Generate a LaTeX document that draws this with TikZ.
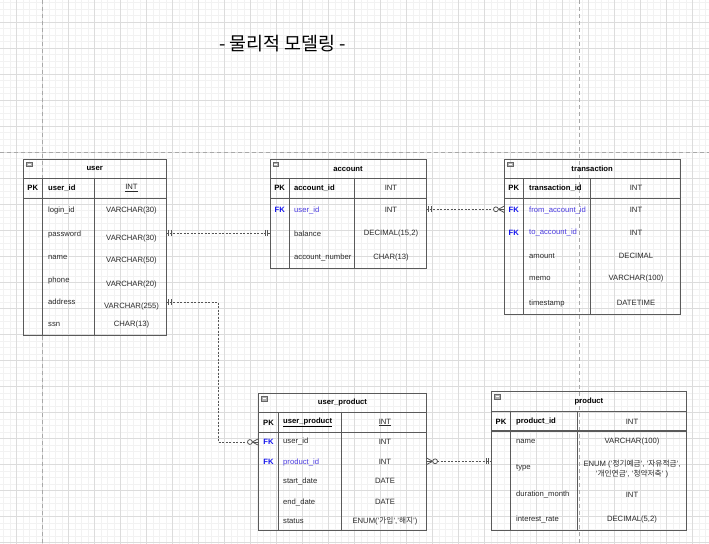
\documentclass[tikz,border=0pt]{standalone}
\usepackage{fontspec}
\setmainfont{Liberation Sans}
\newfontfamily\krfont{Noto Sans CJK KR}
\definecolor{gridmajor}{HTML}{DCDCDC}
\definecolor{gridminor}{HTML}{F2F2F2}
\definecolor{tblc}{HTML}{5A5A5A}
\definecolor{txtc}{HTML}{2A2A2A}
\definecolor{fkblue}{HTML}{1414EE}
\definecolor{fkname}{HTML}{4B3CE0}
\definecolor{pagec}{HTML}{A8A8A8}
\definecolor{connc}{HTML}{555555}
\tikzset{
  minorgrid/.style={draw=gridminor, line width=0.6bp},
  majorgrid/.style={draw=gridmajor, line width=0.8bp},
  pagebreak/.style={draw=pagec, line width=0.7bp, dash pattern=on 4bp off 3bp},
  tbl/.style={draw=tblc, line width=0.9bp},
  cell/.style={font=\fontsize{7.7}{9.5}\selectfont, text=txtc, inner sep=0pt, yshift=-0.8bp},
  fname/.style={cell, anchor=west},
  ftype/.style={cell, align=center},
  hdr/.style={cell, font=\fontsize{7.7}{9.5}\selectfont\bfseries, text=black},
  hdrname/.style={hdr, anchor=west},
  fk/.style={hdr, text=fkblue},
  fkn/.style={fname, text=fkname},
  conn/.style={draw=connc, line width=0.8bp, dash pattern=on 2bp off 1.5bp},
  mk/.style={draw=connc, line width=0.8bp},
  ttl/.style={font=\krfont\fontsize{18.5}{22}\selectfont, text=black, inner sep=0pt},
}
% entity table: #1 name, #2 title, #3 xl, #4 xc1, #5 xc2, #6 xr, #7 ytop, #8 ybottom
\newcommand\ertab[8]{%
  \draw[tbl] (#3,#7) rectangle (#6,#8);
  \draw[tbl] (#3,#7+19.5) -- (#6,#7+19.5);
  \draw[tbl,line width=1.3bp] (#3,#7+39.2) -- (#6,#7+39.2);
  \draw[tbl] (#4,#7+19.5) -- (#4,#8);
  \draw[tbl] (#5,#7+19.5) -- (#5,#8);
  \node[hdr] (#1-t) at ({(#3+#6)/2},#7+8.6) {#2};
  \draw[draw=gray!80!black, fill=gray!60, line width=0.4bp] (#3+3.2,#7+2.8) rectangle (#3+8.6,#7+7.4);
  \draw[white, line width=0.9bp] (#3+4.4,#7+5.1) -- (#3+7.4,#7+5.1);
}
% one-and-only-one end at #1, line leaving in x direction #2
\newcommand\oneend[2]{%
  \draw[mk] ([xshift=#2*2.5bp, yshift=3bp]#1) -- ([xshift=#2*2.5bp, yshift=-3bp]#1);
  \draw[mk] ([xshift=#2*5bp, yshift=3bp]#1) -- ([xshift=#2*5bp, yshift=-3bp]#1);
}
% zero-or-many end at #1, line leaving in x direction #2
\newcommand\manyend[2]{%
  \draw[mk] ([xshift=#2*6bp]#1) -- ([yshift=3.2bp]#1);
  \draw[mk] ([xshift=#2*6bp]#1) -- ([yshift=-3.2bp]#1);
  \draw[mk] ([xshift=#2*6bp]#1) -- (#1);
  \draw[mk, fill=white] ([xshift=#2*8.4bp]#1) circle (2.4bp);
}
\begin{document}
\begin{tikzpicture}[x=1bp, y=-1bp]
\useasboundingbox (0,0) rectangle (709,544);
\fill[white] (0,0) rectangle (709,544);
\clip (0,0) rectangle (709,544);
% grid
\foreach \j in {0,...,112} \draw[minorgrid] ({-9.3+6.5*\j},0) -- ({-9.3+6.5*\j},544);
\foreach \j in {0,...,85} \draw[minorgrid] (0,{-3.7+6.5*\j}) -- (709,{-3.7+6.5*\j});
\foreach \j in {0,...,28} \draw[majorgrid] ({-9.3+26*\j},0) -- ({-9.3+26*\j},544);
\foreach \j in {0,...,21} \draw[majorgrid] (0,{-3.7+26*\j}) -- (709,{-3.7+26*\j});
% page breaks
\draw[pagebreak] (42.5,0) -- (42.5,544);
\draw[pagebreak] (579.5,0) -- (579.5,544);
\draw[pagebreak] (0,152.5) -- (709,152.5);

% title
\node[ttl] (title) at (282.5,44) {- 물리적 모델링 -};

% ---- user
\ertab{user}{user}{23.3}{42.3}{94.7}{166}{159.3}{335.7}
\node[hdr] (u-pk) at (32.8,187.5) {PK};
\node[hdrname] (u-id) at (48,187.5) {user\_id};
\node[ftype] (u-idt) at (131.5,187.5) {\underline{INT}};
\node[fname] (u-1) at (48,209.3) {login\_id};
\node[ftype] (u-1t) at (131.5,209.3) {VARCHAR(30)};
\node[fname] (u-2) at (48,233.3) {password};
\node[ftype] (u-2t) at (131.5,237.3) {VARCHAR(30)};
\node[fname] (u-3) at (48,256.7) {name};
\node[ftype] (u-3t) at (131.5,260) {VARCHAR(50)};
\node[fname] (u-4) at (48,280) {phone};
\node[ftype] (u-4t) at (131.5,284) {VARCHAR(20)};
\node[fname] (u-5) at (48,301) {address};
\node[ftype] (u-5t) at (131.5,306) {VARCHAR(255)};
\node[fname] (u-6) at (48,323.3) {ssn};
\node[ftype] (u-6t) at (131.5,323.3) {CHAR(13)};

% ---- account
\ertab{acc}{account}{270}{289.3}{354.3}{426}{159.3}{268.3}
\node[hdr] (a-pk) at (279.7,187.5) {PK};
\node[hdrname] (a-id) at (294,187.5) {account\_id};
\node[ftype] (a-idt) at (391,187.5) {INT};
\node[fk] (a-fk) at (279.7,209.3) {FK};
\node[fkn] (a-1) at (294,209.3) {user\_id};
\node[ftype] (a-1t) at (391,209.3) {INT};
\node[fname] (a-2) at (294,233) {balance};
\node[ftype] (a-2t) at (391,233) {DECIMAL(15,2)};
\node[fname] (a-3) at (294,256.7) {account\_number};
\node[ftype] (a-3t) at (391,256.7) {CHAR(13)};

% ---- transaction
\ertab{tr}{transaction}{504.3}{523.3}{590.3}{680}{159.3}{314}
\node[hdr] (t-pk) at (513.8,187.5) {PK};
\node[hdrname] (t-id) at (529,187.5) {transaction\_id};
\node[ftype] (t-idt) at (636,187.5) {INT};
\node[fk] (t-fk1) at (513.8,209.3) {FK};
\node[fkn] (t-1) at (529,209.3) {from\_account\_id};
\node[ftype] (t-1t) at (636,209.3) {INT};
\node[fk] (t-fk2) at (513.8,231.7) {FK};
\node[fkn] (t-2) at (529,231.7) {to\_account\_id};
\node[ftype] (t-2t) at (636,231.7) {INT};
\node[fname] (t-3) at (529,255.3) {amount};
\node[ftype] (t-3t) at (636,255.3) {DECIMAL};
\node[fname] (t-4) at (529,278) {memo};
\node[ftype] (t-4t) at (636,278) {VARCHAR(100)};
\node[fname] (t-5) at (529,302.3) {timestamp};
\node[ftype] (t-5t) at (636,302.3) {DATETIME};

% ---- user_product
\ertab{up}{user\_product}{258.3}{278.7}{341.3}{426.7}{393.3}{530}
\node[hdr] (up-pk) at (268.5,421.7) {PK};
\node[hdrname] (up-id) at (283,421.7) {\underline{user\_product}};
\node[ftype] (up-idt) at (385,421.7) {\underline{INT}};
\node[fk] (up-fk1) at (268.5,441) {FK};
\node[fname] (up-1) at (283,441) {user\_id};
\node[ftype] (up-1t) at (385,441) {INT};
\node[fk] (up-fk2) at (268.5,461.3) {FK};
\node[fkn] (up-2) at (283,461.3) {product\_id};
\node[ftype] (up-2t) at (385,461.3) {INT};
\node[fname] (up-3) at (283,480.3) {start\_date};
\node[ftype] (up-3t) at (385,480.3) {DATE};
\node[fname] (up-4) at (283,501.3) {end\_date};
\node[ftype] (up-4t) at (385,501.3) {DATE};
\node[fname] (up-5) at (283,520.3) {status};
\node[ftype] (up-5t) at (385,520.3) {ENUM('{\krfont 가입}','{\krfont 해지}')};

% ---- product
\ertab{pr}{product}{491.3}{510.7}{577.3}{686.7}{391.7}{530}
\node[hdr] (p-pk) at (501,421) {PK};
\node[hdrname] (p-id) at (516,421) {product\_id};
\node[ftype] (p-idt) at (632,421) {INT};
\node[fname] (p-1) at (516,441) {name};
\node[ftype] (p-1t) at (632,441) {VARCHAR(100)};
\node[fname] (p-2) at (516,467.3) {type};
\node[ftype] (p-2t) at (632,468.5) {ENUM ('{\krfont 정기예금}', '{\krfont 자유적금}',\\'{\krfont 개인연금}', '{\krfont 청약저축}' )};
\node[fname] (p-3) at (516,494) {duration\_month};
\node[ftype] (p-3t) at (632,494) {INT};
\node[fname] (p-4) at (516,518.3) {interest\_rate};
\node[ftype] (p-4t) at (632,518.3) {DECIMAL(5,2)};

% ---- connector end points
\coordinate (u-pw) at (166,233);
\coordinate (a-in) at (270,233);
\coordinate (a-out) at (426,209.3);
\coordinate (t-in) at (504.3,209.3);
\coordinate (u-ad) at (166,302);
\coordinate (bendx) at (218,0);
\coordinate (up-in) at (258.3,442);
\coordinate (up-out) at (426.7,461.3);
\coordinate (p-in) at (491.3,461.3);

% ---- connectors
\draw[conn] (u-pw) -- (a-in);
\oneend{u-pw}{1}
\oneend{a-in}{-1}

\draw[conn] (a-out) -- (t-in);
\oneend{a-out}{1}
\manyend{t-in}{-1}

\draw[conn] (u-ad) -- (u-ad -| bendx) |- (up-in);
\oneend{u-ad}{1}
\manyend{up-in}{-1}

\draw[conn] (up-out) -- (p-in);
\manyend{up-out}{1}
\oneend{p-in}{-1}
\end{tikzpicture}
\end{document}
